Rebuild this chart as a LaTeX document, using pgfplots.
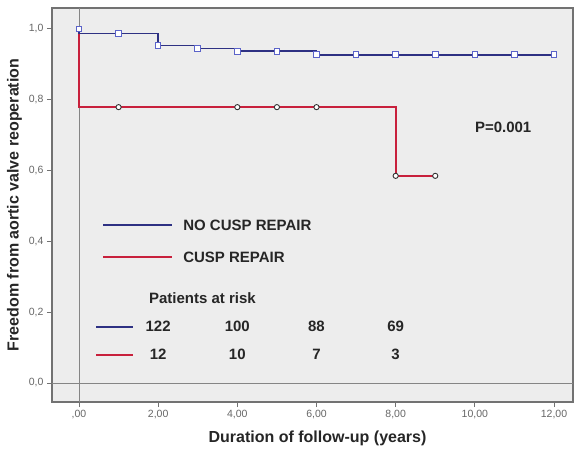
\documentclass[border=0pt]{standalone}
\usepackage{pgfplots}
\pgfplotsset{compat=1.18}
\usepackage{fontspec}
\setmainfont{Liberation Sans}

\definecolor{bgray}{HTML}{EDEDED}
\definecolor{framegray}{HTML}{727272}
\definecolor{refgray}{HTML}{858585}
\definecolor{ticktext}{HTML}{666666}
\definecolor{kmblue}{HTML}{2E3183}
\definecolor{kmbluemark}{HTML}{5B63C9}
\definecolor{kmred}{HTML}{C8203C}
\definecolor{txt}{HTML}{262626}

\begin{document}
\begin{tikzpicture}[
  keytext/.style={inner sep=0pt, text=txt, font=\fontsize{15}{17}\selectfont\bfseries},
  kmline/.style={line width=1.7pt}]
\useasboundingbox (-52pt,-46pt) rectangle (522pt,402pt);
\begin{axis}[
  at={(0pt,0pt)}, anchor=south west,
  scale only axis, width=521pt, height=394pt,
  xmin=-0.682, xmax=12.48, ymin=-0.0537, ymax=1.059,
  axis background/.style={fill=bgray},
  axis line style={framegray, line width=1.1pt},
  xtick={0,2,4,6,8,10,12},
  xticklabels={{,00},{2,00},{4,00},{6,00},{8,00},{10,00},{12,00}},
  ytick={0,0.2,0.4,0.6,0.8,1.0},
  yticklabels={{0,0},{0,2},{0,4},{0,6},{0,8},{1,0}},
  xtick pos=bottom, ytick pos=left,
  tick align=outside, major tick length=5pt,
  tick style={framegray, line width=0.8pt},
  ticklabel style={font=\fontsize{10.5}{12}\selectfont, text=ticktext},
  /pgf/number format/assume math mode=true,
  xlabel={\bfseries Duration of follow-up (years)},
  ylabel={\bfseries Freedom from aortic valve reoperation},
  label style={font=\fontsize{16}{18}\selectfont, text=txt},
  xlabel style={xshift=5pt, yshift=-5pt},
  ylabel style={yshift=0pt},
  clip=false,
]
% reference lines at x = 0 and y = 0
\draw[refgray, line width=0.9pt] (axis cs:0,-0.0537) -- (axis cs:0,1.059);
\draw[refgray, line width=0.9pt] (axis cs:-0.682,0) -- (axis cs:12.48,0);

% Kaplan-Meier curve: cusp repair
\addplot[const plot, kmred, kmline] coordinates {
  (0,1.0) (0,0.779) (8,0.585) (9,0.585)
};
\addplot[only marks, mark=*, mark size=2.6pt,
  mark options={fill=white, draw=black!80, line width=0.9pt}] coordinates {
  (1,0.779) (4,0.779) (5,0.779) (6,0.779) (8,0.585) (9,0.585)
};

% Kaplan-Meier curve: no cusp repair
\addplot[const plot, kmblue, kmline] coordinates {
  (0,1.0) (0,0.987) (2,0.953) (3,0.945) (4,0.937) (6,0.927) (12,0.927)
};
\addplot[only marks, mark=square*, mark size=2.8pt,
  mark options={fill=white, draw=kmbluemark, line width=1pt}] coordinates {
  (0,1.0) (1,0.987) (2,0.953) (3,0.945) (4,0.937) (5,0.937) (6,0.927)
  (7,0.927) (8,0.927) (9,0.927) (10,0.927) (11,0.927) (12,0.927)
};

% group key
\draw[kmblue, kmline] (axis cs:0.61,0.446) -- (axis cs:2.34,0.446);
\draw[kmred, kmline] (axis cs:0.61,0.356) -- (axis cs:2.34,0.356);
\node[keytext, anchor=west] at (axis cs:2.63,0.446) {NO CUSP REPAIR};
\node[keytext, anchor=west] at (axis cs:2.63,0.356) {CUSP REPAIR};

% numbers at risk
\node[keytext] at (axis cs:3.12,0.24) {Patients at risk};
\draw[kmblue, kmline] (axis cs:0.43,0.159) -- (axis cs:1.36,0.159);
\draw[kmred, kmline] (axis cs:0.43,0.080) -- (axis cs:1.36,0.080);
\node[keytext] at (axis cs:2,0.159) {122};
\node[keytext] at (axis cs:4,0.159) {100};
\node[keytext] at (axis cs:6,0.159) {88};
\node[keytext] at (axis cs:8,0.159) {69};
\node[keytext] at (axis cs:2,0.080) {12};
\node[keytext] at (axis cs:4,0.080) {10};
\node[keytext] at (axis cs:6,0.080) {7};
\node[keytext] at (axis cs:8,0.080) {3};

\node[keytext, anchor=west] at (axis cs:10.0,0.723) {P=0.001};
\end{axis}
\end{tikzpicture}
\end{document}
